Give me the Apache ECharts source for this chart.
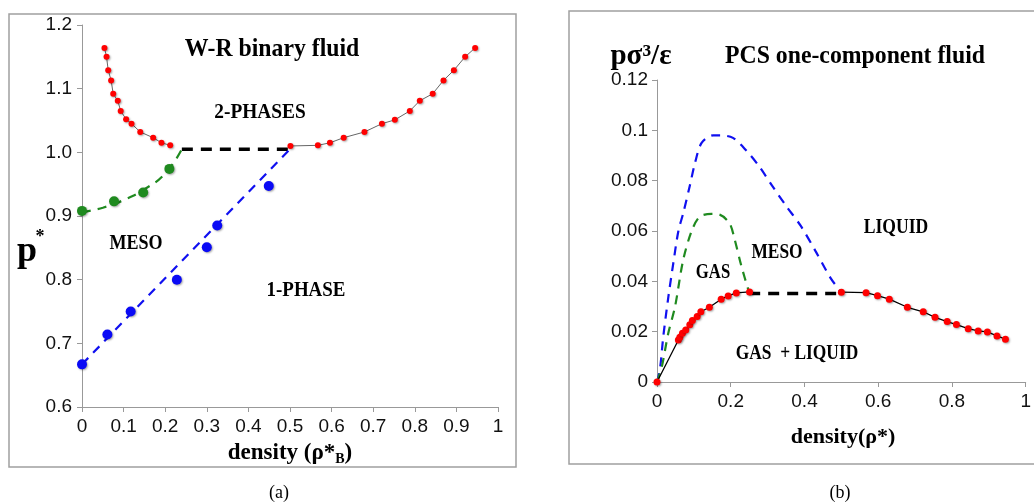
<!DOCTYPE html>
<html lang="en">
<head>
  <meta charset="UTF-8">
  <title>Phase diagrams</title>
  <style>
    html, body { margin: 0; padding: 0; background: #fff; }
    #box { width: 1034px; height: 504px; }
  </style>
</head>
<body>
  <div id="box"></div>
  <script src="https://cdn.jsdelivr.net/npm/echarts@6/dist/echarts.min.js"></script>
  <script>
    // (a) W-R binary fluid
    let wrRhoLeft = [0.054, 0.059, 0.063, 0.070, 0.075, 0.086, 0.093, 0.106, 0.119, 0.140, 0.171, 0.191, 0.212]
    let wrPLeft = [1.164, 1.150, 1.129, 1.113, 1.092, 1.081, 1.065, 1.052, 1.045, 1.032, 1.023, 1.015, 1.011]
    let wrRhoRight = [0.501, 0.567, 0.596, 0.629, 0.679, 0.721, 0.752, 0.788, 0.812, 0.843, 0.869, 0.894, 0.921, 0.945]
    let wrPRight = [1.010, 1.011, 1.015, 1.023, 1.032, 1.045, 1.051, 1.065, 1.081, 1.092, 1.113, 1.129, 1.150, 1.164]
    let mesoRho = [0, 0.077, 0.147, 0.210]
    let mesoP = [0.908, 0.923, 0.937, 0.974]
    let mesoFitRho = [0, 0.05, 0.1, 0.15, 0.2, 0.24]
    let mesoFitP = [0.906, 0.913, 0.925, 0.942, 0.967, 1.005]
    let onePhaseRho = [0, 0.061, 0.117, 0.228, 0.300, 0.325, 0.449]
    let onePhaseP = [0.667, 0.714, 0.750, 0.800, 0.851, 0.885, 0.947]
    let onePhaseFitRho = [0, 0.5]
    let onePhaseFitP = [0.667, 1.005]
    let tieRhoA = [0.24, 0.5]
    let tiePA = [1.005, 1.005]

    // (b) PCS one-component fluid
    let pcsRhoGas = [0, 0.058, 0.062, 0.069, 0.078, 0.089, 0.096, 0.109, 0.119, 0.142, 0.174, 0.193, 0.215, 0.251]
    let pcsPGas = [0, 0.0167, 0.0178, 0.0194, 0.0207, 0.0227, 0.0244, 0.026, 0.0279, 0.0297, 0.0329, 0.0342, 0.0354, 0.0358]
    let pcsRhoLiq = [0.5, 0.567, 0.598, 0.630, 0.679, 0.722, 0.754, 0.787, 0.812, 0.844, 0.871, 0.896, 0.922, 0.945]
    let pcsPLiq = [0.0357, 0.0355, 0.0343, 0.0329, 0.0297, 0.0279, 0.0257, 0.0240, 0.0228, 0.0212, 0.0203, 0.0199, 0.0183, 0.0170]
    let blueRho = [0, 0.008, 0.017, 0.031, 0.044, 0.058, 0.071, 0.089, 0.103, 0.121, 0.152, 0.17, 0.206, 0.242, 0.278, 0.314, 0.35, 0.39, 0.43, 0.47, 0.5]
    let blueP = [0, 0.005, 0.018, 0.034, 0.047, 0.060, 0.067, 0.078, 0.087, 0.095, 0.098, 0.098, 0.097, 0.092, 0.0855, 0.0776, 0.070, 0.062, 0.052, 0.0415, 0.0355]
    let greenRho = [0, 0.013, 0.03, 0.049, 0.071, 0.094, 0.116, 0.148, 0.17, 0.197, 0.21, 0.229, 0.25]
    let greenP = [0, 0.006, 0.019, 0.030, 0.0485, 0.060, 0.0657, 0.0668, 0.0665, 0.063, 0.057, 0.046, 0.0355]
    let tieRhoB = [0.25, 0.5]
    let tiePB = [0.0352, 0.0352]

    let xTicksA = 0.1
    let yTicksA = 0.1
    let xTicksB = 0.2
    let yTicksB = 0.02

    function pairs(xs, ys) {
      let out = []
      for (let i = 0; i < xs.length; i++) {
        out.push([xs[i], ys[i]])
      }
      return out
    }

    let tickFont = { fontFamily: 'Liberation Sans', fontSize: 19, color: '#111' }
    let axisLine = { lineStyle: { color: '#999', width: 1 } }
    let axisTick = { length: 5, lineStyle: { color: '#999' } }
    let dotShadow = { shadowBlur: 2, shadowColor: 'rgba(0,0,0,0.35)', shadowOffsetX: 1, shadowOffsetY: 1 }
    let serifBold = 'Liberation Serif'

    // bold serif text; sx squeezes it sideways to look like the narrow original face
    function label(text, x, y, size, sx) {
      return {
        type: 'text', x: x, y: y, z: 10, scaleX: sx || 1,
        style: {
          text: text, fontFamily: serifBold, fontWeight: 'bold', fontSize: size,
          fill: '#000', align: 'center', verticalAlign: 'middle'
        }
      }
    }

    let myChart = echarts.init(document.getElementById('box'))
    let option = {
      animation: false,
      backgroundColor: '#fff',
      grid: [
        { left: 82, top: 25, width: 416, height: 382 },
        { left: 657, top: 80, width: 370, height: 302 }
      ],
      xAxis: [
        {
          gridIndex: 0, type: 'value', min: 0, max: 1, interval: xTicksA,
          axisLine: axisLine, axisTick: axisTick, splitLine: { show: false },
          axisLabel: Object.assign({ margin: 10, formatter: v => String(+v.toFixed(1)) }, tickFont)
        },
        {
          gridIndex: 1, type: 'value', min: 0, max: 1, interval: xTicksB,
          axisLine: axisLine, axisTick: axisTick, splitLine: { show: false },
          axisLabel: Object.assign({ margin: 10, formatter: v => String(+v.toFixed(1)) }, tickFont)
        }
      ],
      yAxis: [
        {
          gridIndex: 0, type: 'value', min: 0.6, max: 1.2, interval: yTicksA,
          axisLine: Object.assign({ show: true }, axisLine), axisTick: Object.assign({ show: true }, axisTick),
          splitLine: { show: false },
          axisLabel: Object.assign({ margin: 10, formatter: v => v.toFixed(1) }, tickFont)
        },
        {
          gridIndex: 1, type: 'value', min: 0, max: 0.12, interval: yTicksB,
          axisLine: Object.assign({ show: true }, axisLine), axisTick: Object.assign({ show: true }, axisTick),
          splitLine: { show: false },
          axisLabel: Object.assign({ margin: 9, formatter: v => String(+v.toFixed(2)) }, tickFont)
        }
      ],
      series: [
        // (a)
        {
          type: 'line', xAxisIndex: 0, yAxisIndex: 0, data: pairs(tieRhoA, tiePA), symbol: 'none',
          lineStyle: { color: '#000', width: 3.5, type: [11, 8] }, z: 3
        },
        {
          type: 'line', xAxisIndex: 0, yAxisIndex: 0, data: pairs(mesoFitRho, mesoFitP), symbol: 'none', smooth: true,
          lineStyle: { color: '#1f8a1f', width: 2.2, type: [9, 7] }, z: 3
        },
        {
          type: 'line', xAxisIndex: 0, yAxisIndex: 0, data: pairs(onePhaseFitRho, onePhaseFitP), symbol: 'none',
          lineStyle: { color: '#1010f0', width: 2.2, type: [9, 7] }, z: 3
        },
        {
          type: 'line', xAxisIndex: 0, yAxisIndex: 0, data: pairs(wrRhoLeft, wrPLeft), symbol: 'circle', symbolSize: 6,
          lineStyle: { color: '#666', width: 1 }, itemStyle: Object.assign({ color: '#ff0000' }, dotShadow), z: 4
        },
        {
          type: 'line', xAxisIndex: 0, yAxisIndex: 0, data: pairs(wrRhoRight, wrPRight), symbol: 'circle', symbolSize: 6,
          lineStyle: { color: '#666', width: 1 }, itemStyle: Object.assign({ color: '#ff0000' }, dotShadow), z: 4
        },
        {
          type: 'scatter', xAxisIndex: 0, yAxisIndex: 0, data: pairs(mesoRho, mesoP), symbolSize: 10,
          itemStyle: Object.assign({ color: '#1f8a1f', opacity: 1 }, dotShadow), z: 5
        },
        {
          type: 'scatter', xAxisIndex: 0, yAxisIndex: 0, data: pairs(onePhaseRho, onePhaseP), symbolSize: 10,
          itemStyle: Object.assign({ color: '#0a0af5', opacity: 1 }, dotShadow), z: 5
        },
        // (b)
        {
          type: 'line', xAxisIndex: 1, yAxisIndex: 1, data: pairs(blueRho, blueP), symbol: 'none', smooth: 0.3,
          lineStyle: { color: '#1010f0', width: 2.2, type: [9, 7] }, z: 3
        },
        {
          type: 'line', xAxisIndex: 1, yAxisIndex: 1, data: pairs(greenRho, greenP), symbol: 'none', smooth: 0.3,
          lineStyle: { color: '#1f8a1f', width: 2.2, type: [9, 7] }, z: 3
        },
        {
          type: 'line', xAxisIndex: 1, yAxisIndex: 1, data: pairs(tieRhoB, tiePB), symbol: 'none',
          lineStyle: { color: '#000', width: 3.5, type: [11, 8] }, z: 3
        },
        {
          type: 'line', xAxisIndex: 1, yAxisIndex: 1, data: pairs(pcsRhoGas, pcsPGas), symbol: 'circle', symbolSize: 7,
          lineStyle: { color: '#000', width: 1.3 }, itemStyle: Object.assign({ color: '#ff0000' }, dotShadow), z: 4
        },
        {
          type: 'line', xAxisIndex: 1, yAxisIndex: 1, data: pairs(pcsRhoLiq, pcsPLiq), symbol: 'circle', symbolSize: 7,
          lineStyle: { color: '#000', width: 1.3 }, itemStyle: Object.assign({ color: '#ff0000' }, dotShadow), z: 4
        }
      ],
      graphic: [
        { type: 'rect', shape: { x: 9, y: 14, width: 507, height: 453 }, style: { fill: 'none', stroke: '#a0a0a0', lineWidth: 1.5 }, z: 0 },
        { type: 'rect', shape: { x: 569, y: 11, width: 480, height: 453 }, style: { fill: 'none', stroke: '#a0a0a0', lineWidth: 1.5 }, z: 0 },
        // (a) texts
        label('W-R binary fluid', 272, 50, 25, 0.95),
        label('2-PHASES', 260, 112, 22, 0.88),
        label('MESO', 136, 243, 22, 0.82),
        label('1-PHASE', 306, 290, 22, 0.86),
        label('p', 27, 252, 36),
        label('*', 40, 237, 18),
        {
          type: 'text', x: 290, y: 453, z: 10,
          style: {
            text: '{m|density (ρ*}{s|B}{m|)}', align: 'center', verticalAlign: 'middle', fill: '#000',
            rich: {
              m: { fontFamily: serifBold, fontWeight: 'bold', fontSize: 23, lineHeight: 26 },
              s: { fontFamily: serifBold, fontWeight: 'bold', fontSize: 14, lineHeight: 8, verticalAlign: 'bottom' }
            }
          }
        },
        {
          type: 'text', x: 279, y: 493, z: 10,
          style: { text: '(a)', fontFamily: 'Liberation Serif', fontSize: 18, fill: '#000', align: 'center', verticalAlign: 'middle' }
        },
        // (b) texts
        label('pσ³/ε', 641, 57, 29),
        label('PCS one-component fluid', 855, 57, 25, 0.95),
        label('LIQUID', 896, 227, 22, 0.8),
        label('MESO', 777, 252, 22, 0.79),
        label('GAS', 713, 272, 22, 0.76),
        label('GAS  + LIQUID', 797, 353, 22, 0.79),
        label('density(ρ*)', 843, 437, 22),
        {
          type: 'text', x: 840, y: 493, z: 10,
          style: { text: '(b)', fontFamily: 'Liberation Serif', fontSize: 18, fill: '#000', align: 'center', verticalAlign: 'middle' }
        }
      ]
    }
    myChart.setOption(option)
  </script>
</body>
</html>
